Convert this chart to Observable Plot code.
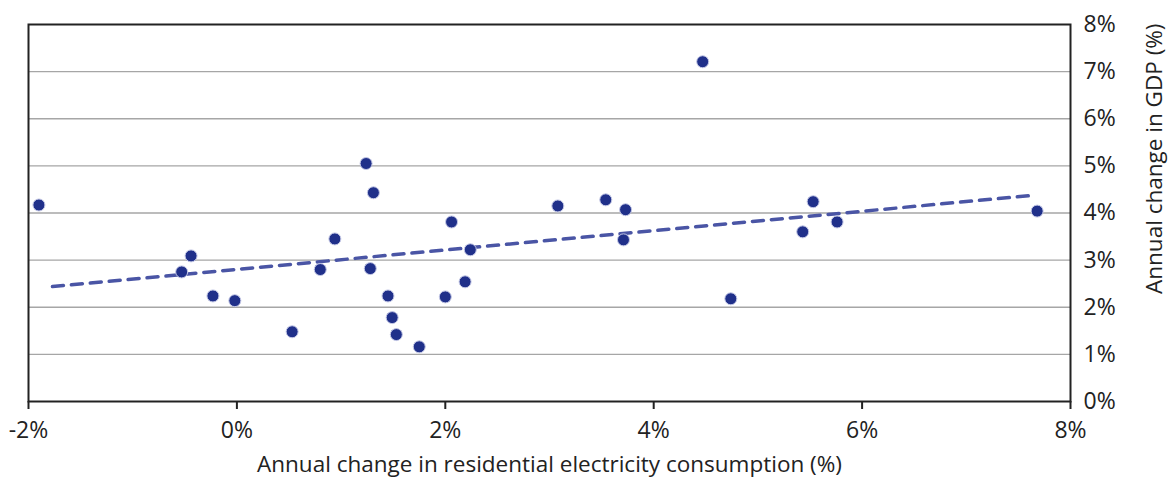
<!DOCTYPE html>
<html>
<head>
<meta charset="utf-8">
<script src="https://cdn.jsdelivr.net/npm/d3@7"></script>
<script src="https://cdn.jsdelivr.net/npm/@observablehq/plot@0.6"></script>
<style>
  html, body { margin: 0; padding: 0; background: #fff; }
  #chart svg { display: block; }
</style>
</head>
<body>
<div id="chart"></div>
<script>
// Annual change in residential electricity consumption (%)
const elecChange = [-1.90, -0.53, -0.44, -0.23, -0.02, 0.53, 0.80, 0.94, 1.24, 1.28,
                    1.31, 1.45, 1.49, 1.53, 1.75, 2.00, 2.06, 2.19, 2.24, 3.08,
                    3.54, 3.73, 3.71, 4.47, 4.74, 5.43, 5.53, 5.76, 7.68];
// Annual change in GDP (%)
const gdpChange  = [4.17, 2.75, 3.09, 2.24, 2.14, 1.48, 2.80, 3.45, 5.05, 2.82,
                    4.43, 2.24, 1.78, 1.42, 1.16, 2.22, 3.81, 2.54, 3.22, 4.15,
                    4.28, 4.07, 3.43, 7.21, 2.18, 3.60, 4.24, 3.81, 4.04];
// Trend line end points
const trendX = [-1.77, 7.62];
const trendY = [2.44, 4.37];
const xTicks = [-2, 0, 2, 4, 6, 8];
const yTicks = [0, 1, 2, 3, 4, 5, 6, 7, 8];
const gridY  = [1, 2, 3, 4, 5, 6, 7];

const points = elecChange.map((x, i) => ({x, y: gdpChange[i]}));
const trend = trendX.map((x, i) => ({x, y: trendY[i]}));

const font = "'Open Sans', 'DejaVu Sans', sans-serif";

const chart = Plot.plot({
  width: 1168,
  height: 480,
  marginLeft: 28,
  marginRight: 98,
  marginTop: 24,
  marginBottom: 79,
  style: {fontFamily: font, fontSize: "22px", color: "#222", background: "#fff"},
  x: {domain: [-2, 8]},
  y: {domain: [0, 8]},
  marks: [
    Plot.ruleY(gridY, {stroke: "#a6a6a6", strokeWidth: 1.3}),
    Plot.axisX({ticks: xTicks, tickSize: 8, tickPadding: 12, tickFormat: d => `${d}%`,
                fontSize: 23, stroke: "#222", strokeWidth: 2, label: null, color: "#222"}),
    Plot.axisY({anchor: "right", ticks: yTicks, tickSize: 0, tickPadding: 13,
                tickFormat: d => `${d}%`, fontSize: 23, textAnchor: "start", label: null}),
    Plot.frame({stroke: "#222", strokeWidth: 2}),
    Plot.line(trend, {x: "x", y: "y", stroke: "#4a55a5", strokeWidth: 3.5, strokeDasharray: "11,8"}),
    Plot.dot(points, {x: "x", y: "y", r: 6, fill: "#20308a", stroke: "#c4c8e6", strokeWidth: 1}),
    Plot.text(["Annual change in residential electricity consumption (%)"], {
      frameAnchor: "bottom", dy: 70, text: d => d, fontSize: 22.5, fill: "#222"}),
    Plot.text(["Annual change in GDP (%)"], {
      frameAnchor: "top-right", dx: 76, dy: -1, rotate: -90, textAnchor: "end",
      text: d => d, fontSize: 22.5, fill: "#222"})
  ]
});
document.getElementById("chart").appendChild(chart);
</script>
</body>
</html>
